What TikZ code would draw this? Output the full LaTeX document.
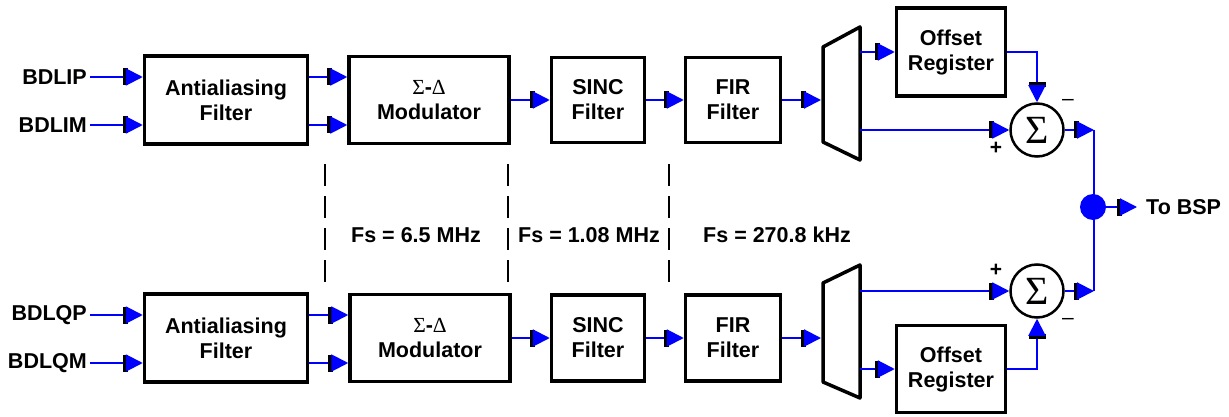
\documentclass[tikz,border=0pt]{standalone}
\usepackage{fontspec}
\setmainfont{Liberation Sans}
\newfontfamily\grkfont{Liberation Serif}
\usetikzlibrary{arrows.meta}

\tikzset{
  blk/.style={draw, line width=3.5pt, align=center, inner sep=0pt,
    font=\bfseries\fontsize{21.5}{25}\selectfont},
  sig/.style={blue, line width=2pt,
    -{Rectangle[black,length=5pt,width=17pt,sep=-2pt]Triangle[blue,length=17pt,width=17pt]}},
  wire/.style={blue, line width=2pt},
  sumnode/.style={draw, circle, line width=2.5pt, minimum size=53pt, inner sep=0pt,
    font=\grkfont\fontsize{40}{40}\selectfont},
  lbl/.style={font=\bfseries\fontsize{21.5}{25}\selectfont, inner sep=3pt},
  sgn/.style={font=\bfseries\fontsize{21}{21}\selectfont, inner sep=0pt},
  divider/.style={line width=2pt, dash pattern=on 22pt off 10pt},
  mux/.style={line width=3.5pt, line join=round},
}
\newcommand{\sdlabel}{{\grkfont\mdseries Σ}-{\grkfont\mdseries Δ}}

\begin{document}
\begin{tikzpicture}[x=1pt, y=-1pt]
    \useasboundingbox (0,0) rectangle (1229,417);

    % I channel (top row)
    \node[lbl, anchor=east] (inIP) at (90,77)  {BDLIP};
    \node[lbl, anchor=east] (inIM) at (90,125) {BDLIM};
    \node[blk, minimum width=163pt, minimum height=88pt] (aaI)   at (226,100) {Antialiasing\\Filter};
    \node[blk, minimum width=160pt, minimum height=87pt] (sdI)   at (429,100) {\sdlabel\\Modulator};
    \node[blk, minimum width=93pt,  minimum height=85pt] (sincI) at (598,100) {SINC\\Filter};
    \node[blk, minimum width=95pt,  minimum height=85pt] (firI)  at (733,100) {FIR\\Filter};
    \node[blk, minimum width=109pt, minimum height=88pt] (offI)  at (951,52)  {Offset\\Register};
    \node[sumnode] (sumI) at (1037,130) {Σ};
    \node[sgn] (plusI)  at (996,148)  {+};
    \node[sgn] (minusI) at (1068,102) {\mdseries\textendash};

    % I channel mux
    \draw[mux] (823,47) -- (860,27) -- (860,160) -- (823,142) -- cycle;
    \coordinate (muxIin) at (821,100);
    \coordinate (muxIa)  at (860,52);
    \coordinate (muxIb)  at (860,130);
    \coordinate (joinI)  at (1094,130);

    \draw[sig] (inIP.east) -- (aaI.west |- inIP.east);
    \draw[sig] (inIM.east) -- (aaI.west |- inIM.east);
    \draw[sig] (aaI.east |- inIP.east) -- (sdI.west |- inIP.east);
    \draw[sig] (aaI.east |- inIM.east) -- (sdI.west |- inIM.east);
    \draw[sig] (sdI.east) -- (sincI.west);
    \draw[sig] (sincI.east) -- (firI.west);
    \draw[sig] (firI.east) -- (muxIin);
    \draw[sig] (muxIa) -- (offI.west);
    \draw[sig] (offI.east) -| (sumI.north);
    \draw[sig] (muxIb) -- (sumI.west);
    \draw[sig] (sumI.east) -- (joinI);

    % Q channel (bottom row)
    \node[lbl, anchor=east] (inQP) at (90,315) {BDLQP};
    \node[lbl, anchor=east] (inQM) at (90,363) {BDLQM};
    \node[blk, minimum width=163pt, minimum height=88pt] (aaQ)   at (226,338) {Antialiasing\\Filter};
    \node[blk, minimum width=160pt, minimum height=87pt] (sdQ)   at (430,338) {\sdlabel\\Modulator};
    \node[blk, minimum width=93pt,  minimum height=86pt] (sincQ) at (598,338) {SINC\\Filter};
    \node[blk, minimum width=95pt,  minimum height=86pt] (firQ)  at (733,338) {FIR\\Filter};
    \node[blk, minimum width=109pt, minimum height=87pt] (offQ)  at (951,369) {Offset\\Register};
    \node[sumnode] (sumQ) at (1037,291) {Σ};
    \node[sgn] (plusQ)  at (996,270)  {+};
    \node[sgn] (minusQ) at (1068,321) {\mdseries\textendash};

    % Q channel mux
    \draw[mux] (823,283) -- (860,265) -- (860,398) -- (823,382) -- cycle;
    \coordinate (muxQin) at (821,338);
    \coordinate (muxQa)  at (860,291);
    \coordinate (muxQb)  at (860,369);
    \coordinate (joinQ)  at (1094,291);

    \draw[sig] (inQP.east) -- (aaQ.west |- inQP.east);
    \draw[sig] (inQM.east) -- (aaQ.west |- inQM.east);
    \draw[sig] (aaQ.east |- inQP.east) -- (sdQ.west |- inQP.east);
    \draw[sig] (aaQ.east |- inQM.east) -- (sdQ.west |- inQM.east);
    \draw[sig] (sdQ.east) -- (sincQ.west);
    \draw[sig] (sincQ.east) -- (firQ.west);
    \draw[sig] (firQ.east) -- (muxQin);
    \draw[sig] (muxQa) -- (sumQ.west);
    \draw[sig] (muxQb) -- (offQ.west);
    \draw[sig] (offQ.east) -| (sumQ.south);
    \draw[sig] (sumQ.east) -- (joinQ);

    % Output tap
    \draw[wire] (joinI) -- (joinQ);
    \node[circle, fill=blue, minimum size=26pt, inner sep=0pt] (tap) at (1093,207) {};
    \node[lbl, anchor=west, inner xsep=9pt] (bsp) at (1137,207) {To BSP};
    \draw[sig] (tap.east) -- (bsp.west);

    % Sample-rate dividers
    \foreach \x in {325,508,669}
        \draw[divider] (\x,164) -- (\x,282);
    \node[lbl] (fsA) at (416,235) {Fs = 6.5 MHz};
    \node[lbl] (fsB) at (589,235) {Fs = 1.08 MHz};
    \node[lbl] (fsC) at (777,235) {Fs = 270.8 kHz};
\end{tikzpicture}
\end{document}
